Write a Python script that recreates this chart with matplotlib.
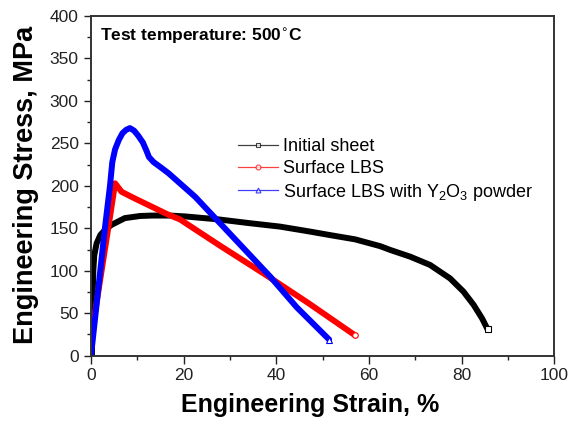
import matplotlib
matplotlib.use("Agg")
import matplotlib.pyplot as plt
from matplotlib.lines import Line2D

plt.rcParams['font.family'] = ['Liberation Sans', 'DejaVu Sans']

# Initial sheet
strain_init = [0.2, 0.3, 0.5, 0.7, 1.2, 2.0, 3.0, 4.4, 7.3, 10.6, 13.1, 17.0, 20.3,
               27.5, 34.3, 40.8, 46.9, 51.6, 57.0, 62.4, 64.6, 68.9, 73.2,
               77.5, 80.4, 82.6, 84.4, 85.6]
stress_init = [0, 60, 100, 118, 132, 142, 148, 154, 162, 164.5, 165, 165, 164,
               160.5, 156, 152, 146.5, 142, 137, 129, 124.5, 116.6, 106.8,
               91, 75.4, 59.7, 44, 31]

# Surface LBS
strain_lbs = [0.0, 2.0, 4.0, 5.2, 6.6, 9.5, 13.1, 16.7, 19.2, 28.0, 37.2, 46.9, 57.0]
stress_lbs = [20, 90, 160, 203, 193, 185, 175.5, 166, 160.5, 129, 97, 62, 24]

# Surface LBS with Y2O3 powder
strain_y2o3 = [0.0, 1.5, 3.0, 4.1, 4.6, 5.2, 6.0, 6.8, 7.6, 8.4, 9.3, 10.2, 11.2,
               12.0, 12.5, 13.5, 15.0, 16.7, 22.5, 27.5, 38.7, 44.4, 51.4]
stress_y2o3 = [0, 75, 150, 200, 228, 243, 254, 262, 266, 268, 265, 259, 251,
               241, 234, 228, 222, 215, 187, 158, 93, 57, 19]

labels = ['Initial sheet', 'Surface LBS',
          r'Surface LBS with Y$_\mathregular{2}$O$_\mathregular{3}$ powder']

fig = plt.figure(figsize=(5.77, 4.23), dpi=100)
ax = fig.add_axes([0.1577, 0.1591, 0.8030, 0.8031])

series = [(strain_init, stress_init, 'black', 's'),
          (strain_lbs, stress_lbs, 'red', 'o'),
          (strain_y2o3, stress_y2o3, 'blue', '^')]

handles = []
for (x, y, c, m), lab in zip(series, labels):
    ax.plot(x, y, color=c, lw=4.3, solid_joinstyle='round', solid_capstyle='round')
    ax.plot(x[-1], y[-1], marker=m, ms=4, mfc='white', mec=c, mew=0.8, ls='none')
    handles.append(Line2D([], [], color=c, lw=0.9, alpha=0.75, marker=m, ms=3.5,
                          mfc='white', mec=c, mew=0.8, label=lab))

ax.set_xlim(0, 100)
ax.set_ylim(0, 400)
ax.set_xticks(range(0, 101, 20))
ax.set_xticks(range(10, 100, 20), minor=True)
ax.set_yticks(range(0, 401, 50))
ax.set_yticks(range(25, 400, 50), minor=True)
ax.tick_params(which='both', direction='out', top=False, right=False,
               labelsize=12.5, width=1.0, colors='#222222')
ax.tick_params(which='major', length=5.4, pad=3.5)
ax.tick_params(which='minor', length=3.2)
for sp in ax.spines.values():
    sp.set_linewidth(1.4)
    sp.set_color('#333333')

ax.set_xlabel('Engineering Strain, %', fontsize=18, fontweight='bold')
ax.set_ylabel('Engineering Stress, MPa', fontsize=19.5, fontweight='bold')
ax.xaxis.set_label_coords(0.473, -0.11)
ax.yaxis.set_label_coords(-0.112, 0.5025)

ax.text(0.02, 0.97, 'Test temperature: 500$^{\\circ}$C', transform=ax.transAxes,
        fontsize=12.5, fontweight='bold', va='top', ha='left')

ax.legend(handles=handles, loc='upper left', bbox_to_anchor=(0.3175, 0.64),
          frameon=False, fontsize=13, borderaxespad=0, borderpad=0,
          handlelength=2.2, handletextpad=0.28, labelspacing=0.26)

fig.savefig('out.png', dpi=100)
